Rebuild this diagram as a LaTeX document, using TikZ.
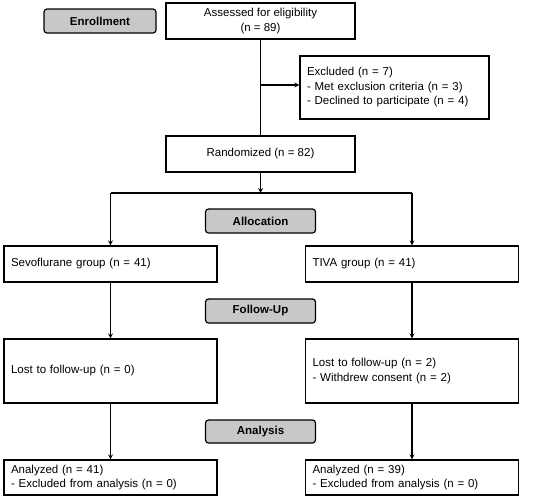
\documentclass[tikz,border=0pt]{standalone}
\usepackage{fontspec}
\setmainfont{Liberation Sans}
\definecolor{stagegray}{RGB}{200,200,200}
\begin{document}
\begin{tikzpicture}
  [x=1pt,y=-1pt,>=stealth,line width=1.2pt,
   every node/.style={font=\fontsize{11.5}{14.5}\selectfont},
   box/.style={draw,rectangle,inner xsep=7pt,inner ysep=0pt,align=left,text width=199pt,minimum height=#1},
   box/.default=36pt,
   midbox/.style={draw,rectangle,align=center,minimum width=189pt,minimum height=36pt},
   stage/.style={draw,rounded corners=3pt,fill=stagegray,font=\fontsize{11.5}{14.5}\selectfont\bfseries,minimum width=110pt,minimum height=24pt},]

\useasboundingbox (0,0) rectangle (545,499);

\node[stage,minimum width=112pt] (enroll) at (100,21) {Enrollment};
\node[midbox] (assess) at (260.5,21) {Assessed for eligibility\\(n = 89)};
\node[box=63pt,text width=175pt] (excl) at (394.5,87.5) {Excluded (n = 7)\\- Met exclusion criteria (n = 3)\\- Declined to participate (n = 4)};
\node[midbox] (rand) at (260.5,154) {Randomized (n = 82)};
\node[stage] (alloc) at (260.5,221) {Allocation};
\node[box] (sevo) at (110.5,264) {Sevoflurane group (n = 41)};
\node[box] (tiva) at (412,264) {TIVA group (n = 41)};
\node[stage] (follow) at (260.5,311) {Follow-Up};
\node[box=64pt] (lostA) at (110.5,371) {Lost to follow-up (n = 0)};
\node[box=64pt] (lostB) at (412,371) {Lost to follow-up (n = 2)\\- Withdrew consent (n = 2)};
\node[stage,minimum height=23pt] (analysis) at (260.5,431.5) {Analysis};
\node[box=35pt] (anaA) at (110.5,477.5) {Analyzed (n = 41)\\- Excluded from analysis (n = 0)};
\node[box=35pt] (anaB) at (412,477.5) {Analyzed (n = 39)\\- Excluded from analysis (n = 0)};

\coordinate (split) at (260.5,193);
\coordinate (exclin) at ([yshift=2.5pt]excl.west);
\draw (assess) -- (rand);
\draw[->] (assess.south |- exclin) -- (exclin);
\draw[->] (rand) -- (split);
\draw (sevo.north |- split) -- (tiva.north |- split);
\foreach \g in {sevo,tiva}
\draw[->] (\g.north |- split) -- (\g.north);
\foreach \a/\b in {sevo/lostA,tiva/lostB,lostA/anaA,lostB/anaB}
\draw[->] (\a) -- (\b);

\end{tikzpicture}
\end{document}
